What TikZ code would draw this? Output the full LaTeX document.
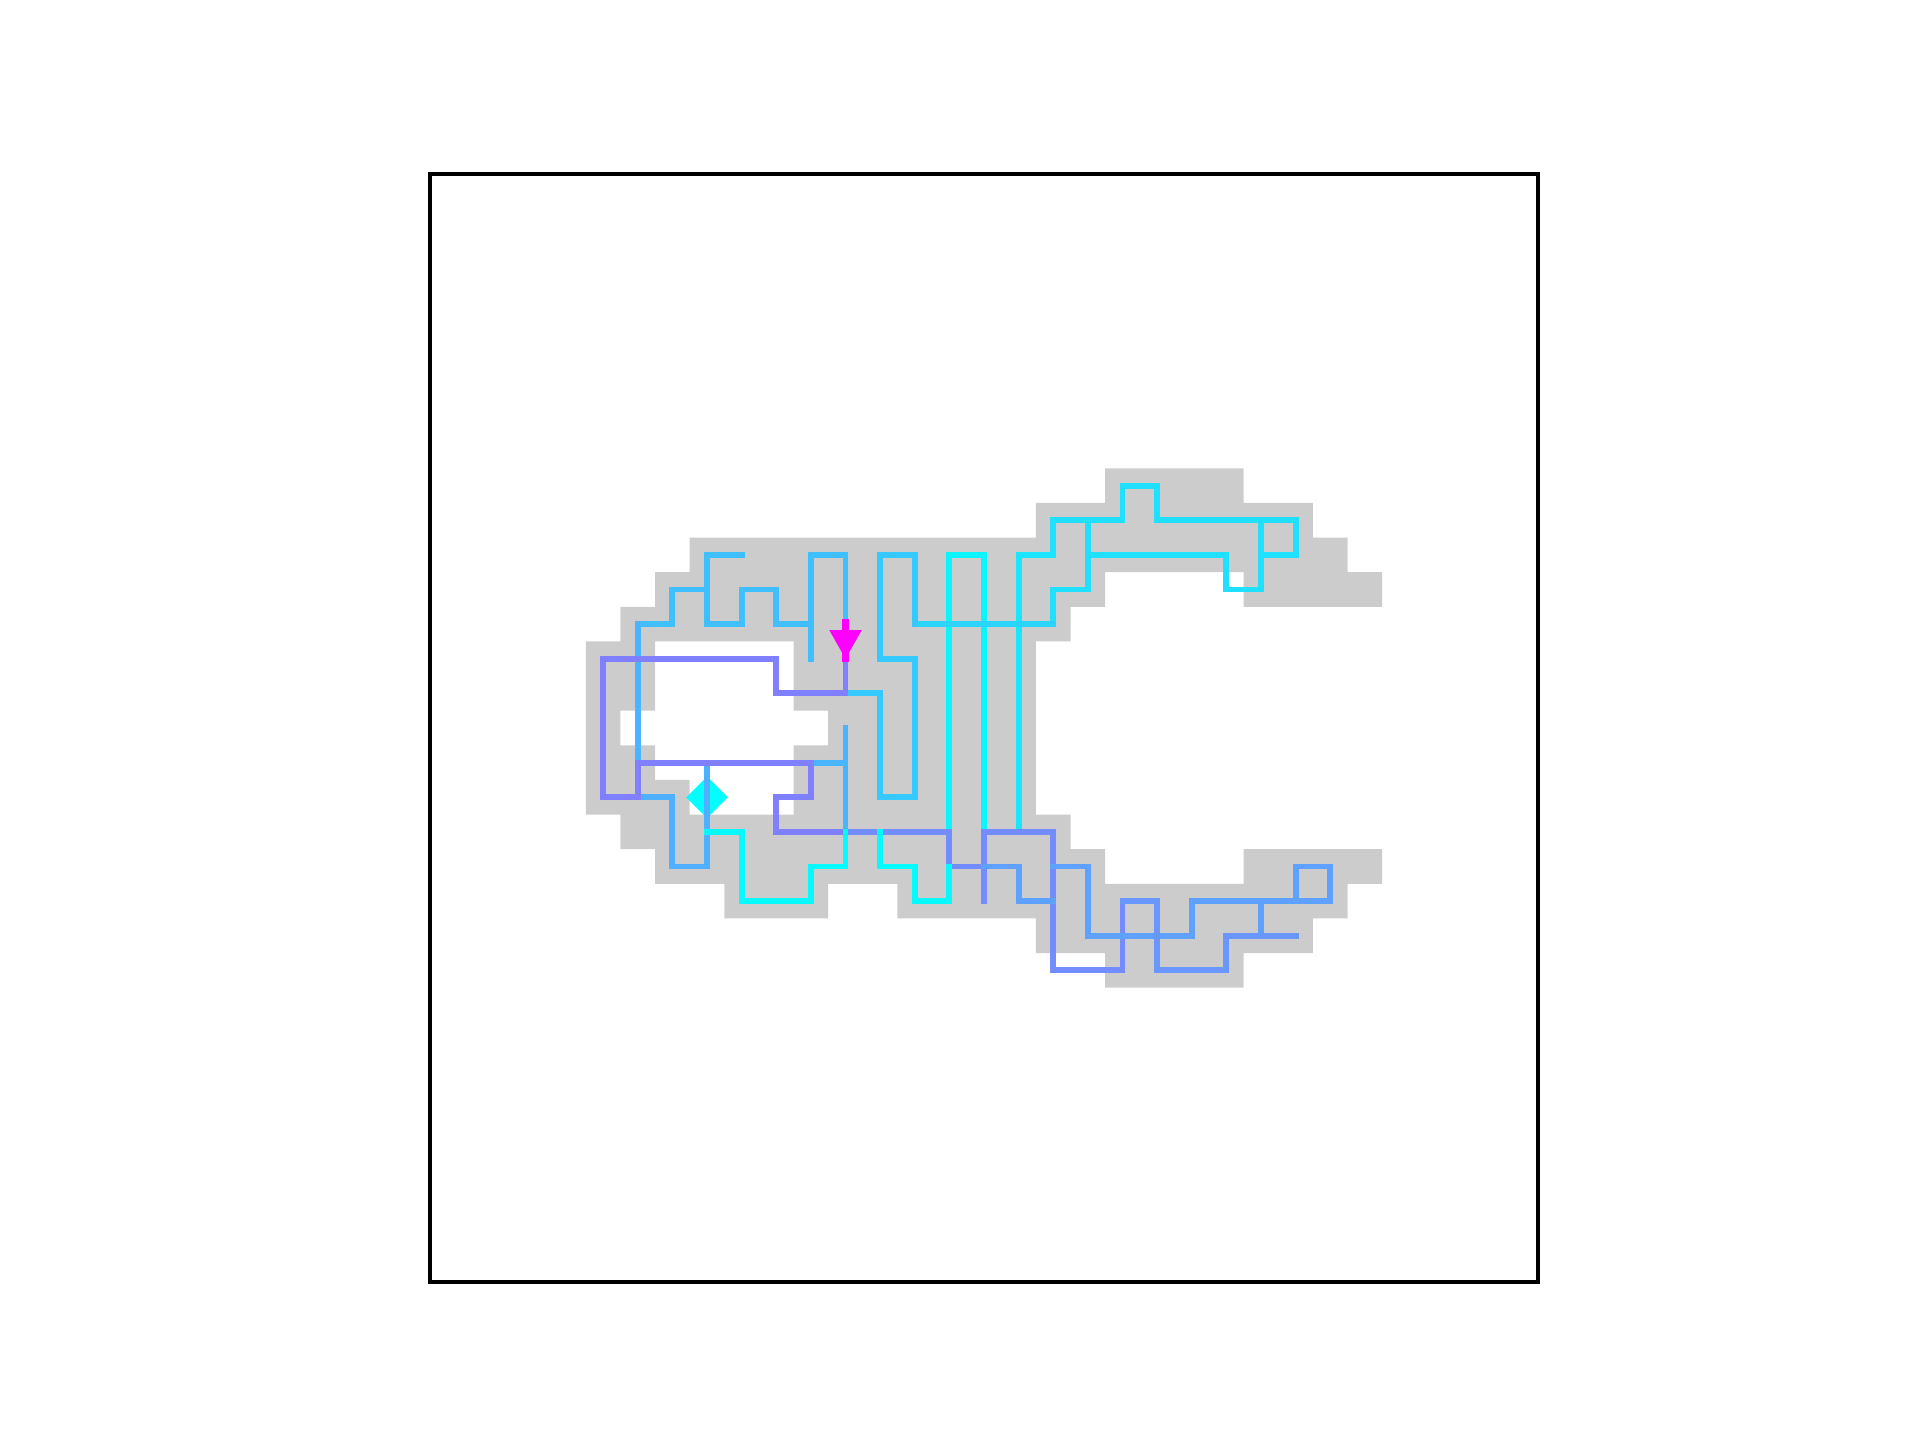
\documentclass[tikz,border=0pt]{standalone}
\usepackage{xcolor}
\definecolor{cyanR}{rgb}{0,1,1}
\definecolor{magR}{rgb}{1,0,1}
\definecolor{grayC}{RGB}{204,204,204}
\colorlet{tA}{magR!12!cyanR}
\colorlet{tB}{magR!4!cyanR}
\colorlet{tBb}{magR!10!cyanR}
\colorlet{tC}{magR!17!cyanR}
\colorlet{tD}{magR!21!cyanR}
\colorlet{tE}{magR!25!cyanR}
\colorlet{tF}{magR!29!cyanR}
\colorlet{tFb}{magR!31!cyanR}
\colorlet{tG}{magR!50!cyanR}
\colorlet{tGb}{magR!45!cyanR}
\colorlet{tH}{magR!37!cyanR}
\colorlet{tI}{magR!41!cyanR}
\colorlet{tZ}{magR!2!cyanR}
\tikzset{
  seg/.style={line width=1.65pt, line cap=rect, line join=miter},
  graycell/.style={fill=grayC},
  framebox/.style={draw=black, line width=0.95pt}
}
\begin{document}
\begin{tikzpicture}[x=0.34625cm, y=-0.34625cm]
\useasboundingbox (-12.4188,-5.0253) rectangle (43.032,36.563);
% grey cells
\fill[graycell]
  (19.5,8.5) rectangle (23.5,9.5)
  (17.5,9.5) rectangle (25.5,10.5)
  (7.5,10.5) rectangle (26.5,11.5)
  (6.5,11.5) rectangle (19.5,12.5)
  (23.5,11.5) rectangle (27.5,12.5)
  (5.5,12.5) rectangle (18.5,13.5)
  (4.5,13.5) rectangle (6.5,14.5)
  (10.5,13.5) rectangle (17.5,14.5)
  (4.5,14.5) rectangle (6.5,15.5)
  (10.5,14.5) rectangle (17.5,15.5)
  (4.5,15.5) rectangle (5.5,16.5)
  (11.5,15.5) rectangle (17.5,16.5)
  (4.5,16.5) rectangle (6.5,17.5)
  (10.5,16.5) rectangle (17.5,17.5)
  (4.5,17.5) rectangle (7.5,18.5)
  (10.5,17.5) rectangle (17.5,18.5)
  (5.5,18.5) rectangle (18.5,19.5)
  (6.5,19.5) rectangle (19.5,20.5)
  (23.5,19.5) rectangle (27.5,20.5)
  (8.5,20.5) rectangle (11.5,21.5)
  (13.5,20.5) rectangle (26.5,21.5)
  (17.5,21.5) rectangle (25.5,22.5)
  (19.5,22.5) rectangle (23.5,23.5);
% start marker
\fill[cyanR] (8,17.4) -- (8.6,18) -- (8,18.6) -- (7.4,18) -- cycle;
% tree segments
\draw[seg, tA] (18,13) -- (18,12) -- (19,12) -- (19,10);
\draw[seg, tA] (18,11) -- (18,10) -- (20,10) -- (20,9) -- (21,9) -- (21,10) -- (25,10) -- (25,11) -- (24,11);
\draw[seg, tA] (24,10) -- (24,12) -- (23,12) -- (23,11) -- (19,11);
\draw[seg, tB] (15,19) -- (15,11) -- (16,11) -- (16,19);
\draw[seg, tBb] (17,19) -- (17,11) -- (18,11);
\draw[seg, tC] (14,13) -- (18,13);
\draw[seg, tD] (14,13) -- (14,11) -- (13,11) -- (13,14) -- (14,14) -- (14,18) -- (13,18) -- (13,15) -- (12,15);
\draw[seg, tE] (9,11) -- (8,11) -- (8,13) -- (9,13) -- (9,12) -- (10,12) -- (10,13) -- (11,13);
\draw[seg, tE] (8,12) -- (7,12) -- (7,13) -- (6,13);
\draw[seg, tE] (11,14) -- (11,11) -- (12,11) -- (12,13);
\draw[seg, tF] (6,13) -- (6,17);
\draw[seg, tF] (11,17) -- (12,17);
\draw[seg, tF] (12,16) -- (12,19);
\draw[seg, tFb] (6,18) -- (7,18) -- (7,20) -- (8,20) -- (8,17);
\draw[seg, tG] (12,14) -- (12,15) -- (10,15) -- (10,14) -- (5,14) -- (5,18) -- (6,18) -- (6,17) -- (11,17) -- (11,18) -- (10,18) -- (10,19) -- (12,19);
\draw[seg, tGb] (12,19) -- (15,19) -- (15,20) -- (16,20);
\draw[seg, tGb] (16,21) -- (16,19) -- (18,19) -- (18,23) -- (20,23) -- (20,21);
\draw[seg, tH] (16,20) -- (17,20) -- (17,21) -- (18,21);
\draw[seg, tH] (18,20) -- (19,20) -- (19,22) -- (22,22) -- (22,21) -- (26,21);
\draw[seg, tH] (24,21) -- (24,22);
\draw[seg, tH] (25,21) -- (25,20) -- (26,20) -- (26,21);
\draw[seg, tI] (20,21) -- (21,21) -- (21,23) -- (23,23) -- (23,22) -- (25,22);
\draw[seg, tZ] (8,19) -- (9,19) -- (9,21) -- (11,21) -- (11,20) -- (12,20) -- (12,19);
\draw[seg, tZ] (13,19) -- (13,20) -- (14,20) -- (14,21) -- (15,21) -- (15,20);
% goal arrow
\fill[magR] (11.903,12.85) rectangle (12.097,14.09);
\fill[magR] (11.53,13.17) -- (12.47,13.17) -- (12,14.0) -- cycle;
% frame
\draw[framebox] (0,0) rectangle (32,32);
\end{tikzpicture}
\end{document}
